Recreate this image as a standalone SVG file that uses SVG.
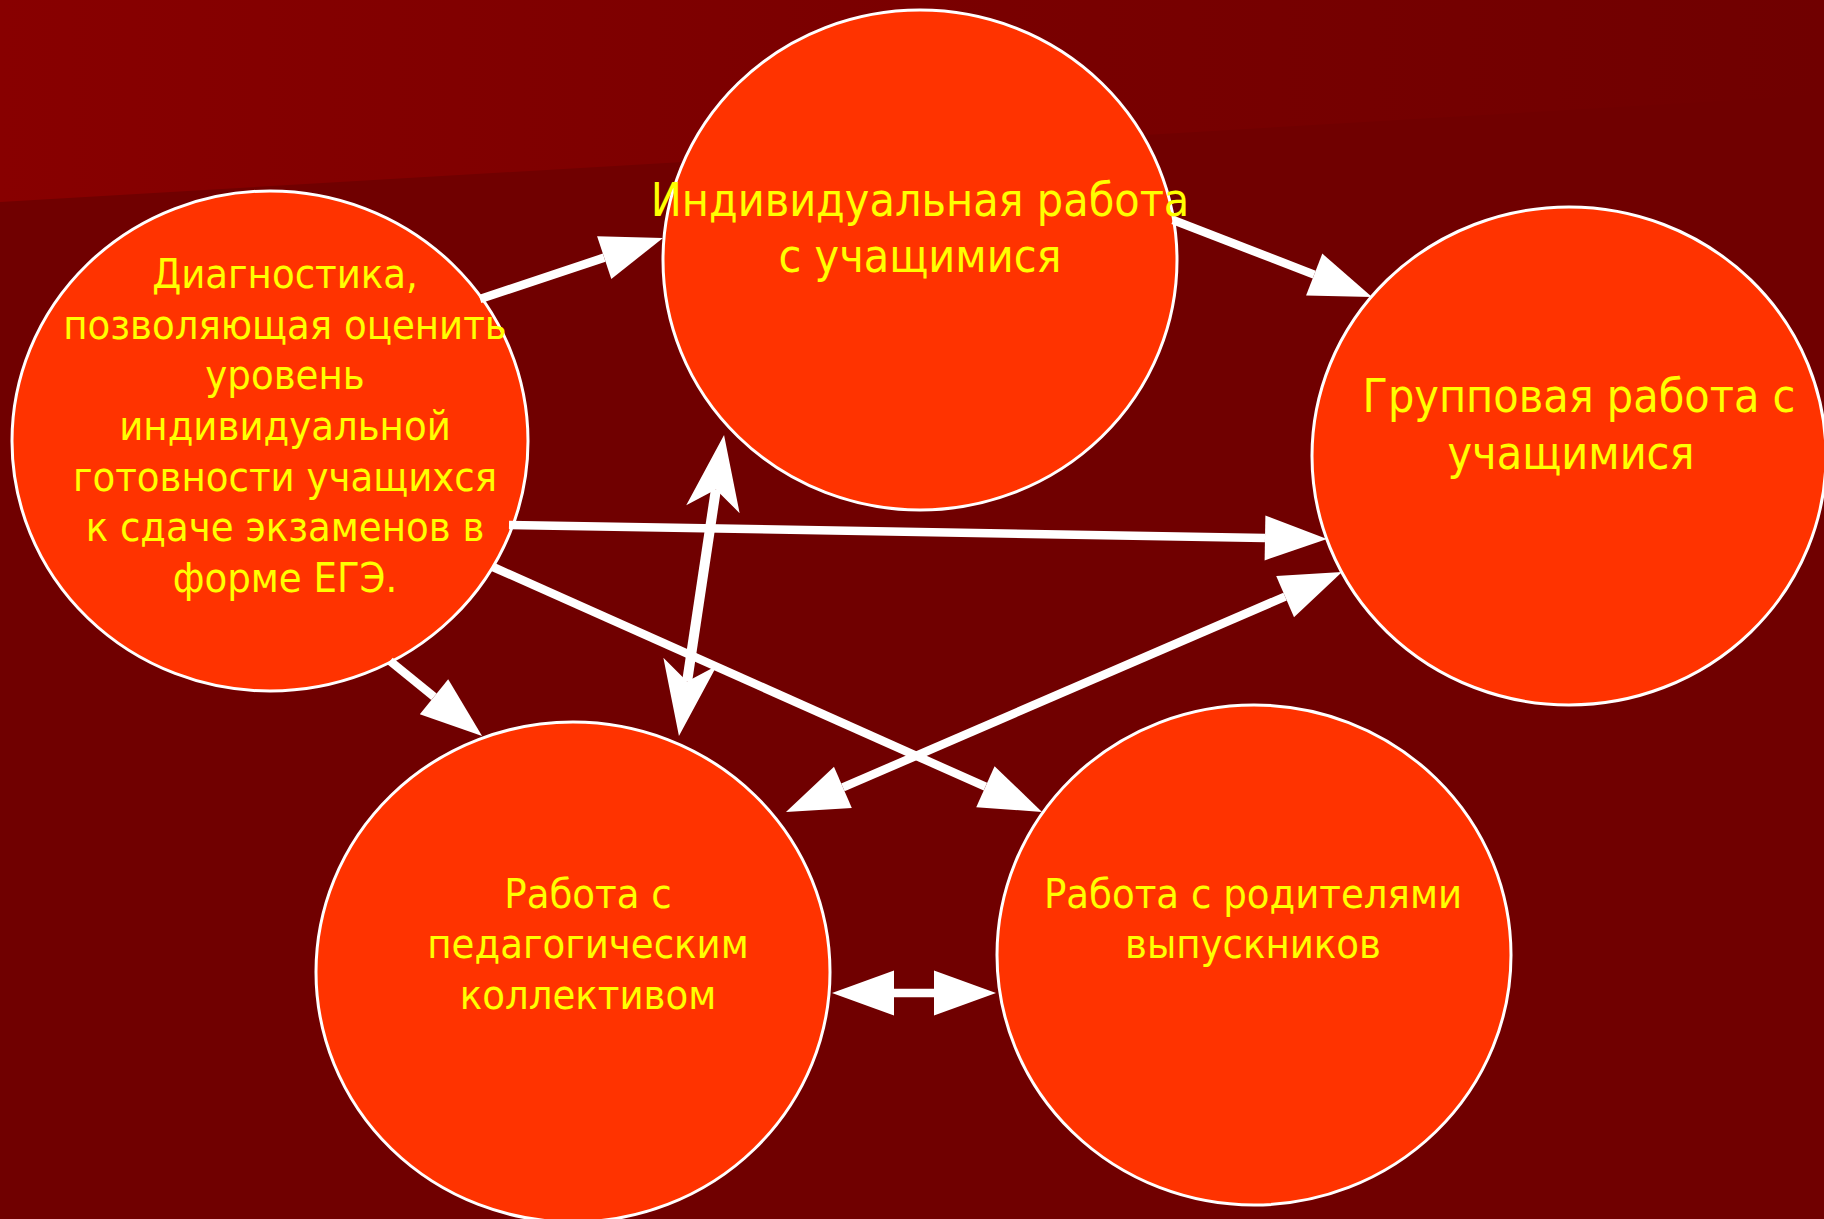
<svg xmlns="http://www.w3.org/2000/svg" width="1824" height="1219" viewBox="0 0 1824 1219">
  <style>
    .node ellipse { fill: #FF3300; stroke: #FFFFFF; stroke-width: 3; }
    .node text { fill: #FFFF00; font-family: "DejaVu Sans Condensed", "DejaVu Sans", sans-serif; font-stretch: condensed; text-anchor: middle; }
    .small text { font-size: 41.3px; }
    .big text { font-size: 46.2px; }
    .conn line { stroke: #FFFFFF; stroke-width: 8.5; fill: none; }
    .conn line.thick { stroke-width: 10; }
  </style>
  <defs>
    <linearGradient id="bgTop" x1="0" y1="0" x2="1" y2="0">
      <stop offset="0" stop-color="#880000"/>
      <stop offset="0.5" stop-color="#7A0000"/>
      <stop offset="1" stop-color="#700000"/>
    </linearGradient>
    <marker id="tri" markerUnits="userSpaceOnUse" markerWidth="62" markerHeight="45" refX="0" refY="22.5" orient="auto-start-reverse" overflow="visible">
      <path d="M0,0 L62,22.5 L0,45 Z" fill="#FFFFFF"/>
    </marker>
    <marker id="stealth" markerUnits="userSpaceOnUse" markerWidth="75" markerHeight="54" refX="20" refY="27" orient="auto-start-reverse" overflow="visible">
      <path d="M0,0 L75,27 L0,54 L20,27 Z" fill="#FFFFFF"/>
    </marker>
  </defs>

  <rect x="0" y="0" width="1824" height="1219" fill="#700000"/>
  <polygon points="0,0 1824,0 1824,95 0,202" fill="url(#bgTop)"/>

  <g id="node-diagnostic" class="node small">
    <ellipse cx="270" cy="441" rx="258" ry="250"/>
    <text x="285" y="288">Диагностика,</text>
    <text x="285" y="339">позволяющая оценить</text>
    <text x="285" y="389">уровень</text>
    <text x="285" y="440">индивидуальной</text>
    <text x="285" y="491">готовности учащихся</text>
    <text x="285" y="541">к сдаче экзаменов в</text>
    <text x="285" y="592">форме ЕГЭ.</text>
  </g>

  <g id="node-individual" class="node big">
    <ellipse cx="920" cy="260" rx="257" ry="250"/>
    <text x="920" y="216">Индивидуальная работа</text>
    <text x="920" y="272">с учащимися</text>
  </g>

  <g id="node-group" class="node big">
    <ellipse cx="1569" cy="456" rx="257" ry="249"/>
    <text x="1579" y="412">Групповая работа с</text>
    <text x="1571" y="469">учащимися</text>
  </g>

  <g id="node-pedagogical" class="node small">
    <ellipse cx="573" cy="972" rx="257" ry="250"/>
    <text x="588" y="908">Работа с</text>
    <text x="588" y="958">педагогическим</text>
    <text x="588" y="1009">коллективом</text>
  </g>

  <g id="node-parents" class="node small">
    <ellipse cx="1254" cy="955" rx="257" ry="250"/>
    <text x="1253" y="908">Работа с родителями</text>
    <text x="1253" y="958">выпускников</text>
  </g>

  <g id="connectors" class="conn">
    <line x1="480" y1="299" x2="604.2" y2="257.6" marker-end="url(#tri)"/>
    <line x1="1173" y1="220" x2="1314.2" y2="274.6" marker-end="url(#tri)"/>
    <line x1="509" y1="525" x2="1265" y2="537.9" marker-end="url(#tri)"/>
    <line x1="493" y1="567" x2="985.4" y2="786.7" marker-end="url(#tri)"/>
    <line x1="390" y1="661" x2="434" y2="696.8" marker-end="url(#tri)"/>
    <line class="thick" x1="715.9" y1="489.4" x2="687.1" y2="681.6" marker-start="url(#stealth)" marker-end="url(#stealth)"/>
    <line x1="1285.1" y1="596.6" x2="842.9" y2="787.4" marker-start="url(#tri)" marker-end="url(#tri)"/>
    <line x1="894" y1="993" x2="934" y2="993" marker-start="url(#tri)" marker-end="url(#tri)"/>
  </g>
</svg>
